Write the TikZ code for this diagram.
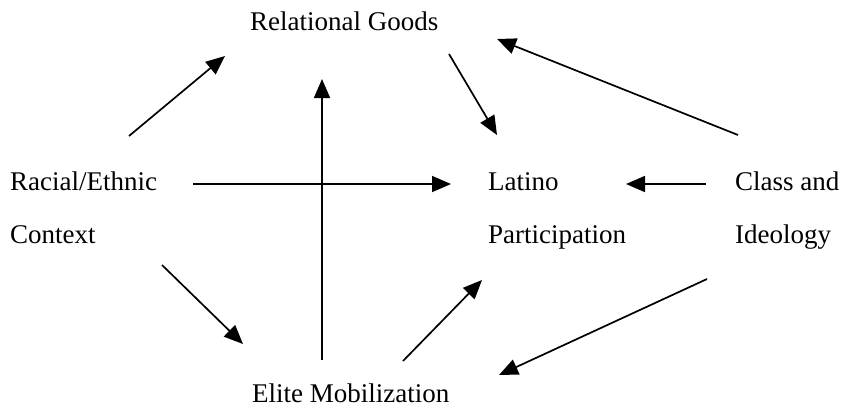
\documentclass[tikz,border=0pt]{standalone}
\usepackage{fontspec}
\setmainfont{Liberation Serif}
\usetikzlibrary{arrows.meta}
\begin{document}
\begin{tikzpicture}[x=1pt,y=-1pt]
    \tikzstyle{arrow} = [-{Triangle[length=19pt,width=16pt]}, line width=1.7pt]
    \tikzstyle{lbl} = [inner sep=0pt, align=left,
        font=\fontsize{27}{53}\selectfont]

    \useasboundingbox (0,0) rectangle (843,408);

    \node(goods) [lbl] at (250,30) [anchor=base west]
        {Relational Goods};

    \node(context) [lbl] at (10,243) [anchor=base west]
        {Racial/Ethnic\\Context};

    \node(latino) [lbl] at (488,243) [anchor=base west]
        {Latino\\Participation};

    \node(class) [lbl] at (735,243) [anchor=base west]
        {Class and\\Ideology};

    \node(elite) [lbl] at (252,402) [anchor=base west]
        {Elite Mobilization};

    % free arrow ends
    \coordinate (c1a) at (129,136);  \coordinate (c1b) at (225,56);
    \coordinate (c2a) at (193,184);  \coordinate (c2b) at (451,184);
    \coordinate (c3a) at (162,265);  \coordinate (c3b) at (243,344);
    \coordinate (e1a) at (322,360);  \coordinate (e1b) at (322,79);
    \coordinate (e2a) at (403,361);  \coordinate (e2b) at (482,280);
    \coordinate (g1a) at (449,54);   \coordinate (g1b) at (497,135);
    \coordinate (k1a) at (738,135);  \coordinate (k1b) at (497,39);
    \coordinate (k2a) at (706,184);  \coordinate (k2b) at (626,184);
    \coordinate (k3a) at (707,279);  \coordinate (k3b) at (499,375);

    \draw[arrow] (c1a) -- (c1b);
    \draw[arrow] (c2a) -- (c2b);
    \draw[arrow] (c3a) -- (c3b);
    \draw[arrow] (e1a) -- (e1b);
    \draw[arrow] (e2a) -- (e2b);
    \draw[arrow] (g1a) -- (g1b);
    \draw[arrow] (k1a) -- (k1b);
    \draw[arrow] (k2a) -- (k2b);
    \draw[arrow] (k3a) -- (k3b);
\end{tikzpicture}
\end{document}
